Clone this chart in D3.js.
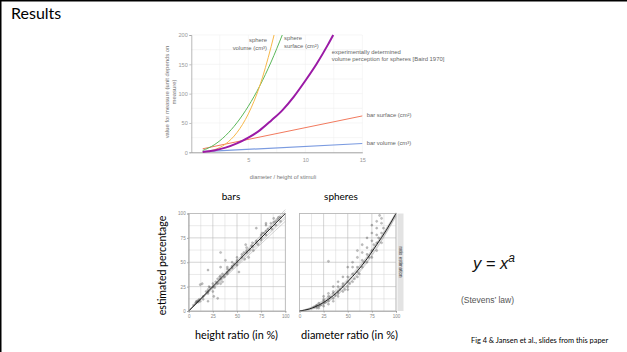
<!DOCTYPE html>
<html>
<head>
<meta charset="utf-8">
<script src="https://cdn.jsdelivr.net/npm/d3@7"></script>
<style>
  body { margin: 0; background: #fff; }
  svg { display: block; }
</style>
</head>
<body>
<script>
// --- top chart: measure vs. size of stimulus ---
const sphereVolX = [1, 2, 3, 4, 5, 6, 7, 7.26];
const sphereVolY = [0.5, 4.2, 14.1, 33.5, 65.4, 113, 180, 200];
const sphereSurfX = [1, 2, 3, 4, 5, 6, 7, 7.98];
const sphereSurfY = [3.1, 12.6, 28.3, 50.3, 78.5, 113, 154, 200];
const bairdX = [1, 2, 3, 4, 5, 6, 7, 8, 9, 10, 11, 12, 12.45];
const bairdY = [0.6, 3.1, 7.9, 15.1, 25, 37.4, 54, 72, 95, 122, 151, 184, 200];
const barSurfX = [1, 15];
const barSurfY = [6, 62];
const barVolX = [1, 15];
const barVolY = [1, 15];

const topXTicks = [5, 10, 15];
const topYTicks = [0, 50, 100, 150, 200];
const panelTicks = [0, 25, 50, 75, 100];

// --- bottom panels: estimated percentage vs. ratio ---
const barsPtsX = [5, 7, 8, 8, 9, 10, 10, 11, 12, 12, 14, 15, 15, 18, 20, 20, 20, 20, 20, 21, 22, 25, 25, 25, 26, 27, 28, 30, 30, 30, 32, 33, 33, 33, 33, 33, 35, 35, 37, 38, 40, 40, 40, 40, 42, 45, 45, 45, 47, 50, 50, 50, 50, 52, 55, 55, 57, 58, 59, 60, 60, 60, 62, 63, 65, 66, 66, 67, 70, 70, 70, 72, 75, 75, 75, 76, 78, 80, 80, 80, 80, 82, 85, 85, 86, 88, 88, 90, 90, 92, 93, 95, 95];
const barsPtsY = [6, 8, 10, 9, 10, 11, 9, 12, 10, 27, 28, 15, 12, 20, 22, 20, 18, 10, 42, 25, 24, 25, 28, 20, 15, 24, 30, 33, 28, 13, 35, 36, 33, 28, 60, 45, 38, 30, 35, 52, 40, 43, 38, 45, 42, 46, 50, 44, 48, 50, 52, 47, 55, 40, 55, 58, 60, 53, 68, 60, 62, 65, 55, 63, 67, 66, 70, 62, 70, 72, 85, 68, 75, 78, 73, 80, 80, 82, 78, 88, 90, 84, 86, 90, 84, 91, 95, 92, 88, 94, 96, 96, 92];
const barsFitEnds = [92, 95, 97, 102, 104];
const barsMainEnd = 100;

const spheresPtsX = [15, 17, 18, 18, 20, 20, 20, 22, 25, 25, 25, 25, 25, 27, 30, 30, 30, 30, 30, 32, 30, 35, 35, 35, 35, 35, 37, 40, 40, 40, 40, 40, 42, 45, 45, 45, 45, 47, 50, 50, 50, 50, 50, 52, 55, 55, 55, 55, 57, 60, 60, 60, 60, 60, 62, 65, 65, 65, 65, 67, 70, 70, 70, 70, 72, 75, 75, 75, 75, 77, 75, 80, 80, 80, 80, 82, 80, 85, 85, 85, 85, 83, 87];
const spheresPtsY = [4, 5, 3, 6, 5, 8, 3, 6, 8, 10, 12, 5, 15, 9, 10, 12, 15, 7, 18, 14, 51, 13, 18, 20, 25, 10, 16, 15, 20, 25, 18, 30, 22, 20, 25, 28, 35, 22, 25, 30, 35, 22, 45, 28, 30, 38, 45, 50, 33, 35, 45, 55, 62, 40, 38, 45, 52, 60, 68, 50, 50, 58, 65, 75, 55, 55, 62, 72, 80, 68, 88, 62, 70, 78, 85, 75, 92, 70, 80, 90, 95, 98, 85];
const spheresFitX = [0, 10, 20, 30, 40, 50, 60, 70, 80, 90, 100];
const spheresFitY = [0, 2, 6, 12, 20, 30, 41, 53.5, 68, 83, 100];
const spheresBand1 = [0, 3, 8, 15, 23, 33, 44, 56, 70, 85, 101];
const spheresBand2 = [0, 2.5, 7, 13.5, 21.5, 31.5, 42.5, 55, 69, 84, 100];
const spheresBand3 = [0, 1.5, 5, 10.5, 18, 27.5, 38.5, 51, 65.5, 81, 98];
const spheresBand4 = [0, 1, 4.5, 9.5, 17, 26, 37, 49.5, 64, 80, 97];
const spheresBand5 = [0, 2, 6.5, 12.5, 20.5, 30.5, 41.5, 54, 67.5, 82, 99];

const W = 627, H = 352;
const svg = d3.select('body').append('svg')
    .attr('width', W)
    .attr('height', H);

svg.append('rect').attr('width', W).attr('height', H).attr('fill', '#fff');

// slide frame
svg.append('line').attr('x1', 0).attr('x2', W).attr('y1', 0.75).attr('y2', 0.75)
    .attr('stroke', '#000').attr('stroke-width', 1.5);
svg.append('line').attr('x1', 0.75).attr('x2', 0.75).attr('y1', 0).attr('y2', H)
    .attr('stroke', '#000').attr('stroke-width', 1.5);

svg.append('text')
    .attr('x', 11).attr('y', 19)
    .style('font-family', 'Lato, sans-serif').style('font-size', '16px')
    .attr('fill', '#000')
    .text('Results');

// ---------------- top chart ----------------
const tx = d3.scaleLinear().domain([0, 15]).range([191.3, 362.3]);
const ty = d3.scaleLinear().domain([0, 200]).range([152.3, 35]);
const topG = svg.append('g').style('font-family', '"Liberation Sans", Arial, sans-serif');

topG.append('g').selectAll('line')
    .data(d3.range(2.5, 15.01, 2.5))
    .enter().append('line')
    .attr('x1', d => tx(d)).attr('x2', d => tx(d))
    .attr('y1', ty(0)).attr('y2', ty(200))
    .attr('stroke', '#f0f0f0').attr('stroke-width', 0.6);
topG.append('g').selectAll('line')
    .data(d3.range(25, 200.01, 25))
    .enter().append('line')
    .attr('x1', tx(0)).attr('x2', tx(15))
    .attr('y1', d => ty(d)).attr('y2', d => ty(d))
    .attr('stroke', '#f0f0f0').attr('stroke-width', 0.6);

const yAxTop = topG.append('g')
    .attr('transform', 'translate(' + tx(0) + ',0)')
    .call(d3.axisLeft(ty).tickValues(topYTicks).tickSize(2).tickPadding(1.5));
const xAxTop = topG.append('g')
    .attr('transform', 'translate(0,' + ty(0) + ')')
    .call(d3.axisBottom(tx).tickValues(topXTicks).tickSize(0).tickPadding(5.5));
[yAxTop, xAxTop].forEach(function (ax) {
    ax.select('.domain').attr('stroke', '#999').attr('stroke-width', 0.7);
    ax.selectAll('.tick line').attr('stroke', '#999').attr('stroke-width', 0.6);
    ax.selectAll('text').attr('fill', '#999').style('font-size', '5.6px')
        .style('font-family', '"Liberation Sans", Arial, sans-serif');
});
xAxTop.select('.domain').attr('stroke', '#777');

const topLine = d3.line()
    .x(d => tx(d[0]))
    .y(d => ty(d[1]))
    .curve(d3.curveMonotoneX);

const topSeries = [
    { xs: barVolX, ys: barVolY, color: '#7b9be0', w: 1.2 },
    { xs: barSurfX, ys: barSurfY, color: '#f27a5e', w: 1 },
    { xs: sphereSurfX, ys: sphereSurfY, color: '#5bb85a', w: 1 },
    { xs: sphereVolX, ys: sphereVolY, color: '#f7b84a', w: 1 },
    { xs: bairdX, ys: bairdY, color: '#9b1aa6', w: 2 }
];
topSeries.forEach(function (s) {
    topG.append('path')
        .datum(s.xs.map((x, i) => [x, s.ys[i]]))
        .attr('d', topLine)
        .attr('fill', 'none')
        .attr('stroke', s.color)
        .attr('stroke-width', s.w);
});

const topLabels = [
    { x: 267, y: 42, anchor: 'end', t: 'sphere' },
    { x: 267, y: 49.7, anchor: 'end', t: 'volume (cm³)' },
    { x: 284, y: 39.7, anchor: 'start', t: 'sphere' },
    { x: 284, y: 47.7, anchor: 'start', t: 'surface (cm²)' },
    { x: 331.7, y: 53.7, anchor: 'start', t: 'experimentally determined' },
    { x: 331.7, y: 61.3, anchor: 'start', t: 'volume perception for spheres [Baird 1970]' },
    { x: 366.7, y: 117, anchor: 'start', t: 'bar surface (cm²)' },
    { x: 366.7, y: 145.3, anchor: 'start', t: 'bar volume (cm³)' }
];
topG.append('g').selectAll('text')
    .data(topLabels)
    .enter().append('text')
    .attr('x', d => d.x).attr('y', d => d.y)
    .attr('text-anchor', d => d.anchor)
    .attr('fill', '#666')
    .style('font-size', '5.9px')
    .text(d => d.t);

topG.append('text')
    .attr('x', 283).attr('y', 178.7)
    .attr('text-anchor', 'middle')
    .attr('fill', '#777').style('font-size', '5.7px')
    .text('diameter / height of stimuli');

const yTitle = topG.append('text')
    .attr('transform', 'translate(168.7,92) rotate(-90)')
    .attr('text-anchor', 'middle')
    .attr('fill', '#777').style('font-size', '5.9px');
yTitle.append('tspan').attr('x', 0).attr('dy', 0).text('value for measure (unit depends on');
yTitle.append('tspan').attr('x', 0).attr('dy', 7.3).text('measure)');

// ---------------- bottom panels ----------------
const py = d3.scaleLinear().domain([0, 100]).range([311, 213.5]);
const bx = d3.scaleLinear().domain([0, 100]).range([188.7, 285.3]);
const sx = d3.scaleLinear().domain([0, 100]).range([299.5, 396]);

function drawPanel(xs, ptsX, ptsY, bandLines, mainLine, showY) {
    const g = svg.append('g');
    // grid
    const minor = d3.range(12.5, 100, 25);
    g.append('g').selectAll('line').data(minor).enter().append('line')
        .attr('x1', d => xs(d)).attr('x2', d => xs(d))
        .attr('y1', py(0)).attr('y2', py(100))
        .attr('stroke', '#d4d4d4').attr('stroke-width', 0.5);
    g.append('g').selectAll('line').data(minor).enter().append('line')
        .attr('x1', xs(0)).attr('x2', xs(100))
        .attr('y1', d => py(d)).attr('y2', d => py(d))
        .attr('stroke', '#d4d4d4').attr('stroke-width', 0.5);
    g.append('g').selectAll('line').data(panelTicks).enter().append('line')
        .attr('x1', d => xs(d)).attr('x2', d => xs(d))
        .attr('y1', py(0)).attr('y2', py(100))
        .attr('stroke', '#b8b8b8').attr('stroke-width', 0.6);
    g.append('g').selectAll('line').data(panelTicks).enter().append('line')
        .attr('x1', xs(0)).attr('x2', xs(100))
        .attr('y1', d => py(d)).attr('y2', d => py(d))
        .attr('stroke', '#b8b8b8').attr('stroke-width', 0.6);

    const ln = d3.line().x(d => xs(d[0])).y(d => py(d[1])).curve(d3.curveMonotoneX);
    bandLines.forEach(function (b) {
        g.append('path').datum(b).attr('d', ln)
            .attr('fill', 'none').attr('stroke', '#888').attr('stroke-opacity', 0.7)
            .attr('stroke-width', 0.5);
    });

    g.append('g').selectAll('circle')
        .data(ptsX.map((x, i) => [x, ptsY[i]]))
        .enter().append('circle')
        .attr('cx', d => xs(d[0])).attr('cy', d => py(d[1]))
        .attr('r', 1.1)
        .attr('fill', '#333').attr('fill-opacity', 0.3)
        .attr('stroke', '#333').attr('stroke-opacity', 0.35).attr('stroke-width', 0.4);

    g.append('path').datum(mainLine).attr('d', ln)
        .attr('fill', 'none').attr('stroke', '#222').attr('stroke-width', 1);

    const ax = g.append('g').attr('transform', 'translate(0,' + py(0) + ')')
        .call(d3.axisBottom(xs).tickValues(panelTicks).tickSize(1.5).tickPadding(2.5));
    ax.select('.domain').attr('stroke', '#999').attr('stroke-width', 0.6);
    ax.selectAll('.tick line').attr('stroke', '#999');
    ax.selectAll('text').attr('fill', '#888').style('font-size', '4.6px')
        .style('font-family', '"Liberation Sans", Arial, sans-serif');
    if (showY) {
        const ay = g.append('g').attr('transform', 'translate(' + xs(0) + ',0)')
            .call(d3.axisLeft(py).tickValues(panelTicks).tickSize(1.5).tickPadding(1.5));
        ay.select('.domain').attr('stroke', '#999').attr('stroke-width', 0.6);
        ay.selectAll('.tick line').attr('stroke', '#999');
        ay.selectAll('text').attr('fill', '#888').style('font-size', '4.6px')
            .style('font-family', '"Liberation Sans", Arial, sans-serif');
    }
    g.append('rect')
        .attr('x', xs(0)).attr('y', py(100))
        .attr('width', xs(100) - xs(0)).attr('height', py(0) - py(100))
        .attr('fill', 'none').attr('stroke', '#aaa').attr('stroke-width', 0.5);
    return g;
}

const barsBand = barsFitEnds.map(e => [[0, 0], [100, e]]);
drawPanel(bx, barsPtsX, barsPtsY, barsBand, [[0, 0], [100, barsMainEnd]], true);

const spheresBand = [spheresBand1, spheresBand2, spheresBand3, spheresBand4, spheresBand5]
    .map(b => spheresFitX.map((x, i) => [x, b[i]]));
drawPanel(sx, spheresPtsX, spheresPtsY, spheresBand, spheresFitX.map((x, i) => [x, spheresFitY[i]]), false);

// facet strip
svg.append('rect')
    .attr('x', 397.5).attr('y', py(100))
    .attr('width', 6).attr('height', py(0) - py(100))
    .attr('fill', '#e3e3e3');
svg.append('text')
    .attr('transform', 'translate(399,262) rotate(90)')
    .attr('text-anchor', 'middle')
    .attr('fill', '#333')
    .style('font-family', '"Liberation Sans", Arial, sans-serif')
    .style('font-size', '4.6px')
    .text('ratio estimation');

const calib = 'Lato, "Open Sans", sans-serif';
svg.append('text').attr('x', 231).attr('y', 200).attr('text-anchor', 'middle')
    .style('font-family', calib).style('font-size', '10px').attr('fill', '#000').text('bars');
svg.append('text').attr('x', 341).attr('y', 200).attr('text-anchor', 'middle')
    .style('font-family', calib).style('font-size', '10px').attr('fill', '#000').text('spheres');
svg.append('text').attr('transform', 'translate(166,265.5) rotate(-90)').attr('text-anchor', 'middle')
    .style('font-family', calib).style('font-size', '10.5px').attr('fill', '#000').text('estimated percentage');
svg.append('text').attr('x', 236.5).attr('y', 338.5).attr('text-anchor', 'middle')
    .style('font-family', calib).style('font-size', '10.8px').attr('fill', '#000').text('height ratio (in %)');
svg.append('text').attr('x', 349.5).attr('y', 338.5).attr('text-anchor', 'middle')
    .style('font-family', calib).style('font-size', '11px').attr('fill', '#000').text('diameter ratio (in %)');

// Stevens' law
const law = svg.append('text').attr('x', 473).attr('y', 268.5)
    .style('font-family', '"Liberation Sans", Arial, sans-serif')
    .style('font-style', 'italic').style('font-size', '16.5px').attr('fill', '#111');
law.append('tspan').text('y = x');
law.append('tspan').attr('dy', -7).style('font-size', '12px').text('a');

svg.append('text').attr('x', 461).attr('y', 303)
    .style('font-family', '"Liberation Sans", Arial, sans-serif')
    .style('font-size', '8.5px').attr('fill', '#555')
    .text('(Stevens\u2019 law)');

svg.append('text').attr('x', 471).attr('y', 343)
    .style('font-family', calib).style('font-size', '7.4px').attr('fill', '#000')
    .text('Fig 4 & Jansen et al., slides from this paper');
</script>
</body>
</html>
